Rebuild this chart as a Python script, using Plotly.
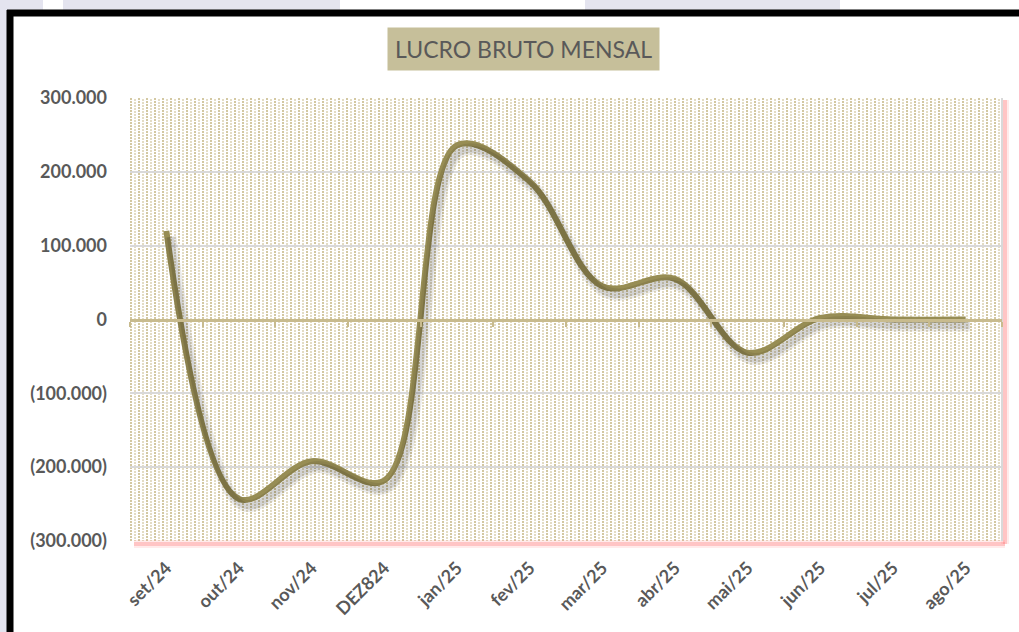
import base64
import plotly.graph_objects as go

# ---- data ----
months = ["set/24", "out/24", "nov/24", "DEZ824", "jan/25", "fev/25",
          "mar/25", "abr/25", "mai/25", "jun/25", "jul/25", "ago/25"]
lucro = [120000, -243000, -192000, -218000, 236000, 187000,
         45000, 55000, -45000, 2000, 0, 0]
y_ticks = [-300000, -200000, -100000, 0, 100000, 200000, 300000]
y_tick_text = ["(300.000)", "(200.000)", "(100.000)", "0", "100.000", "200.000", "300.000"]
title_text = "LUCRO BRUTO MENSAL"

# ---- layout geometry ----
W, H = 1019, 632
L, R, T, B = 130, 17, 98, 91
PW, PH = W - L - R, H - T - B
YMIN, YMAX = -300000, 300000
n = len(months)


def px(xp):
    return (xp - L) / PW


def py(yp):
    return (H - B - yp) / PH


LINE = "#978d54"
TXT = "#595959"
TAN = "#c8bb8e"

svg = (
    "<svg xmlns='http://www.w3.org/2000/svg' width='%d' height='%d' shape-rendering='crispEdges'>"
    "<defs><pattern id='p' width='8' height='3' patternUnits='userSpaceOnUse'>"
    "<rect x='0' y='0' width='2' height='2' fill='#d3c8a2'/>"
    "<rect x='4' y='1' width='2' height='2' fill='#e3dcc4'/>"
    "</pattern></defs>"
    "<rect width='100%%' height='100%%' fill='#ffffff'/>"
    "<rect width='100%%' height='100%%' fill='url(#p)'/></svg>" % (PW, PH)
)
svg_uri = "data:image/svg+xml;base64," + base64.b64encode(svg.encode()).decode()

fig = go.Figure()

# shadow of the line (offset overlay axes)
dx = 4.0 / PW * n
dy = 6.0 / PH * (YMAX - YMIN)
fig.add_trace(go.Scatter(
    x=list(range(n)), y=lucro, xaxis="x2", yaxis="y2", mode="lines",
    line=dict(color="rgba(0,0,0,0.08)", width=12, shape="spline", smoothing=1.0),
    hoverinfo="skip", showlegend=False))
fig.add_trace(go.Scatter(
    x=list(range(n)), y=lucro, xaxis="x2", yaxis="y2", mode="lines",
    line=dict(color="rgba(0,0,0,0.10)", width=7, shape="spline", smoothing=1.0),
    hoverinfo="skip", showlegend=False))

# zero axis with boundary ticks
fig.add_trace(go.Scatter(x=[0], y=[None], xaxis="x3", yaxis="y", mode="lines",
                         hoverinfo="skip", showlegend=False))

# main line
fig.add_trace(go.Scatter(
    x=months, y=lucro, mode="lines",
    line=dict(color=LINE, width=6, shape="spline", smoothing=1.0),
    showlegend=False))

shapes = []
# lavender surround (outside the black frame)
lav = "#e4e4ef"
shapes.append(dict(type="rect", xref="paper", yref="paper", x0=px(0), x1=px(8), y0=py(H + 5), y1=py(0),
                   fillcolor=lav, line=dict(width=0), layer="below"))
for a, b in [(0, 43), (63, 340), (585, 840)]:
    shapes.append(dict(type="rect", xref="paper", yref="paper", x0=px(a), x1=px(b), y0=py(10), y1=py(0),
                       fillcolor=lav, line=dict(width=0), layer="below"))
# black frame
shapes.append(dict(type="line", xref="paper", yref="paper", x0=px(7), x1=px(W + 5), y0=py(13), y1=py(13),
                   line=dict(color="black", width=7), layer="above"))
shapes.append(dict(type="line", xref="paper", yref="paper", x0=px(10), x1=px(10), y0=py(10), y1=py(H + 5),
                   line=dict(color="black", width=7), layer="above"))
# pink glow on right and bottom of plot area
for w_, c_ in [(8, "rgba(255,120,120,0.15)"), (4, "rgba(255,110,110,0.30)")]:
    shapes.append(dict(type="line", xref="paper", yref="paper", x0=px(W - R + 3), x1=px(W - R + 3),
                       y0=py(T + 2), y1=py(H - B + 3), line=dict(color=c_, width=w_), layer="below"))
    shapes.append(dict(type="line", xref="paper", yref="paper", x0=px(L + 4), x1=px(W - R + 3),
                       y0=py(H - B + 3), y1=py(H - B + 3), line=dict(color=c_, width=w_), layer="below"))
# right edge of plot area
shapes.append(dict(type="line", xref="paper", yref="paper", x0=1, x1=1, y0=0, y1=1,
                   line=dict(color="#d9d9d9", width=2), layer="below"))

fig.update_layout(
    width=W, height=H,
    margin=dict(l=L, r=R, t=T, b=B, pad=0),
    paper_bgcolor="white", plot_bgcolor="rgba(0,0,0,0)",
    showlegend=False,
    images=[dict(source=svg_uri, xref="paper", yref="paper", x=0, y=1, sizex=1, sizey=1,
                 xanchor="left", yanchor="top", sizing="stretch", layer="below")],
    shapes=shapes,
    xaxis=dict(type="category", range=[-0.5, n - 0.5], showgrid=False, zeroline=False,
               showline=False, ticks="", tickangle=-45, ticklabelstandoff=12,
               tickfont=dict(family="Lato", size=18, color=TXT, weight="bold")),
    yaxis=dict(range=[YMIN, YMAX], tickvals=y_ticks, ticktext=y_tick_text,
               showgrid=True, gridcolor="#d9d9d9", gridwidth=2, zeroline=False,
               showline=False, ticks="", ticklabelstandoff=22,
               tickfont=dict(family="Lato", size=18, color=TXT, weight="bold")),
    xaxis2=dict(overlaying="x", range=[-0.5 - dx, n - 0.5 - dx], visible=False),
    yaxis2=dict(overlaying="y", range=[YMIN + dy, YMAX + dy], visible=False),
    xaxis3=dict(overlaying="x", anchor="free", position=(0 - YMIN) / (YMAX - YMIN),
                range=[-0.5, n - 0.5], tickvals=[i - 0.5 for i in range(n + 1)],
                showticklabels=False, ticks="outside", ticklen=5, tickwidth=2, tickcolor=TAN,
                showline=True, linecolor=TAN, linewidth=3, showgrid=False, zeroline=False),
    annotations=[dict(text=title_text, xref="paper", yref="paper", x=px(523), y=py(48.5),
                      xanchor="center", yanchor="middle", showarrow=False,
                      font=dict(family="Lato", size=23, color=TXT),
                      bgcolor="#c6bf9a", borderpad=7)],
)

fig.write_html("out.html", config={"displayModeBar": False},
               post_script="document.body.style.margin='0';")
